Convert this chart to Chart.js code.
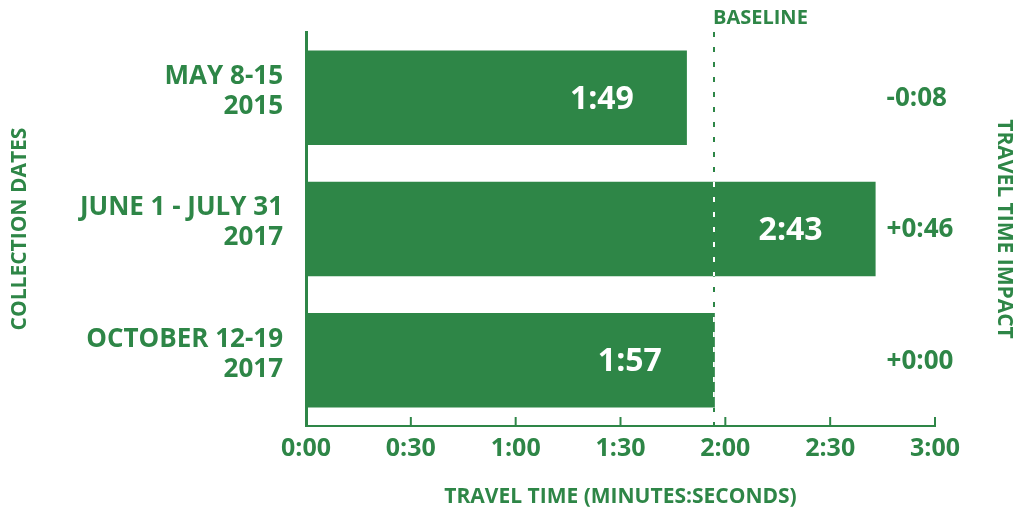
<!DOCTYPE html>
<html>
<head>
<meta charset="utf-8">
<script src="https://cdn.jsdelivr.net/npm/chart.js@4.4.1/dist/chart.umd.min.js"></script>
<style>
  html, body { margin: 0; padding: 0; background: #fff; }
  #wrap { width: 1016px; height: 508px; }
</style>
</head>
<body>
<div id="wrap"><canvas id="myChart"></canvas></div>
<script>
    var green = '#2e8647'
    var family = '"Open Sans", "DejaVu Sans", sans-serif'

    // collection periods, travel time in seconds
    var dates = [['MAY 8-15', '2015'], ['JUNE 1 - JULY 31', '2017'], ['OCTOBER 12-19', '2017']]
    var travelSeconds = [109, 163, 117]
    var impactSeconds = [-8, 46, 0]
    var baselineSeconds = 117
    var xTicks = [0, 30, 60, 90, 120, 150, 180]

    function mmss(sec) {
        var s = Math.abs(sec)
        var m = Math.floor(s / 60)
        var r = s % 60
        return m + ':' + (r < 10 ? '0' : '') + r
    }

    function dottedLine(ctx, x, top, bottom, color) {
        ctx.strokeStyle = color
        ctx.lineWidth = 2
        ctx.setLineDash([5, 10])
        ctx.beginPath()
        ctx.moveTo(x, top)
        ctx.lineTo(x, bottom)
        ctx.stroke()
        ctx.setLineDash([])
    }

    // inner tick marks, baseline, value and impact labels
    var extras = {
        id: 'extras',
        afterDatasetsDraw: function(chart) {
            var ctx = chart.ctx
            var x = chart.scales.x
            var area = chart.chartArea
            var bars = chart.getDatasetMeta(0).data
            ctx.save()

            ctx.strokeStyle = green
            ctx.lineWidth = 2
            xTicks.forEach(function(v) {
                var px = x.getPixelForValue(v)
                ctx.beginPath()
                ctx.moveTo(px, area.bottom)
                ctx.lineTo(px, area.bottom - 9)
                ctx.stroke()
            })

            // baseline: green dots on the background, white dots over the bars
            var bx = Math.round(x.getPixelForValue(baselineSeconds)) - 1
            dottedLine(ctx, bx, area.top, area.bottom, green)
            bars.forEach(function(bar) {
                ctx.save()
                ctx.beginPath()
                ctx.rect(bar.base, bar.y - bar.height / 2, bar.x - bar.base, bar.height)
                ctx.clip()
                dottedLine(ctx, bx, area.top, area.bottom, '#ffffff')
                ctx.restore()
            })

            ctx.fillStyle = green
            ctx.textBaseline = 'middle'
            ctx.textAlign = 'left'
            ctx.font = 'bold 20px ' + family
            ctx.fillText('BASELINE', bx - 1, 18)

            var impactX = x.getPixelForValue(Math.max.apply(null, travelSeconds)) + 11
            ctx.font = 'bold 26px ' + family
            bars.forEach(function(bar, i) {
                var s = impactSeconds[i]
                ctx.fillText((s < 0 ? '-' : '+') + mmss(s), impactX, bar.y + 1)
            })

            ctx.fillStyle = '#ffffff'
            ctx.textAlign = 'right'
            ctx.font = 'bold 32px ' + family
            bars.forEach(function(bar, i) {
                ctx.fillText(mmss(travelSeconds[i]), bar.x - 53, bar.y + 2)
            })
            ctx.restore()
        }
    }

    var ctx = document.getElementById('myChart').getContext('2d');
    var myChart = new Chart(ctx, {
        type: 'bar',
        data: {
            labels: dates,
            datasets: [{
                label: 'Travel time',
                data: travelSeconds,
                backgroundColor: green,
                borderWidth: 0,
                barPercentage: 0.72,
                categoryPercentage: 1
            }]
        },
        options: {
            indexAxis: 'y',
            responsive: true,
            maintainAspectRatio: false,
            animation: false,
            layout: { padding: { top: 32, left: 0, right: 0, bottom: 0 } },
            plugins: {
                legend: { display: false },
                tooltip: { enabled: false }
            },
            scales: {
                x: {
                    min: 0,
                    max: 180,
                    afterBuildTicks: function(scale) {
                        scale.ticks = xTicks.map(function(v) { return { value: v } })
                    },
                    afterFit: function(scale) { scale.height = 82 },
                    grid: { drawOnChartArea: false, drawTicks: false },
                    border: { color: green, width: 2 },
                    ticks: {
                        color: green,
                        padding: 8,
                        maxRotation: 0,
                        font: { family: family, size: 25, weight: 'bold' },
                        callback: function(v) { return mmss(v) }
                    },
                    title: {
                        display: true,
                        text: 'TRAVEL TIME (MINUTES:SECONDS)',
                        color: green,
                        font: { family: family, size: 21, weight: 'bold', lineHeight: 1 },
                        padding: { top: 0, bottom: 0 }
                    }
                },
                y: {
                    position: 'left',
                    afterFit: function(scale) {
                        scale.width = 306
                        // labels sit inside their bands, no extra room needed above/below
                        scale.paddingTop = 0
                        scale.paddingBottom = 0
                    },
                    grid: { drawOnChartArea: false, drawTicks: false },
                    border: { color: green, width: 3 },
                    ticks: {
                        color: green,
                        padding: 23,
                        labelOffset: -6,
                        font: { family: family, size: 26, weight: 'bold', lineHeight: 1.15 }
                    },
                    title: {
                        display: true,
                        text: 'COLLECTION DATES',
                        color: green,
                        font: { family: family, size: 21, weight: 'bold', lineHeight: 1 },
                        padding: { top: 10 }
                    }
                },
                y2: {
                    type: 'category',
                    position: 'right',
                    afterFit: function(scale) { scale.width = 81 },
                    grid: { display: false },
                    border: { display: false },
                    ticks: { display: false },
                    title: {
                        display: true,
                        text: 'TRAVEL TIME IMPACT',
                        color: green,
                        font: { family: family, size: 21, weight: 'bold', lineHeight: 1 },
                        padding: { top: 2 }
                    }
                }
            }
        },
        plugins: [extras]
    });
</script>
</body>
</html>
